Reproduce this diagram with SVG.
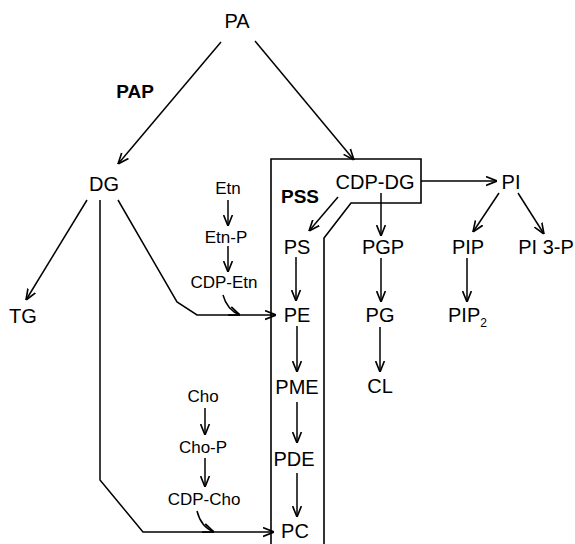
<svg xmlns="http://www.w3.org/2000/svg" width="575" height="544" viewBox="0 0 575 544">
<style>
text{font-family:"Liberation Sans",Arial,sans-serif;fill:#000;text-anchor:middle}
.n{font-size:20px}
.s{font-size:17px}
.b{font-size:19px;font-weight:bold}
.c{stroke:#000;stroke-width:1.5;fill:none;marker-end:url(#ah)}
.box{stroke:#000;stroke-width:1.6;fill:none}
</style>
<defs>
<marker id="ah" viewBox="0 0 10 10" refX="10" refY="5" markerWidth="11" markerHeight="11" markerUnits="userSpaceOnUse" orient="auto">
<path d="M0,1 L10,5 L0,9" stroke="#000" stroke-width="1.5" fill="none"/>
</marker>
</defs>
<rect width="575" height="544" fill="#fff"/>
<g id="pss-box"><path class="box" d="M271,544 V159 H421 V203 H351 L324,238 V544"/></g>
<g id="connectors">
<line class="c" x1="221" y1="42" x2="118" y2="164"/>
<line class="c" x1="255" y1="41" x2="354" y2="160"/>
<line class="c" x1="87" y1="200" x2="26" y2="300"/>
<polyline class="c" points="100,200 100,480 143,532 274,532"/>
<polyline class="c" points="118,200 177,302 197,315 276,315"/>
<line class="c" x1="228" y1="200" x2="228" y2="226"/>
<line class="c" x1="228" y1="246" x2="228" y2="272"/>
<path class="c" d="M223,295 Q227,310 240,315"/>
<line class="c" x1="421" y1="181" x2="497" y2="181"/>
<line class="c" x1="338" y1="197" x2="309" y2="231"/>
<line class="c" x1="381" y1="193" x2="381" y2="236"/>
<line class="c" x1="296" y1="257" x2="296" y2="301"/>
<line class="c" x1="381" y1="258" x2="381" y2="302"/>
<line class="c" x1="380" y1="327" x2="380" y2="372"/>
<line class="c" x1="499" y1="193" x2="473" y2="232"/>
<line class="c" x1="518" y1="193" x2="544" y2="234"/>
<line class="c" x1="467" y1="258" x2="467" y2="302"/>
<line class="c" x1="297" y1="326" x2="297" y2="372"/>
<line class="c" x1="297" y1="402" x2="297" y2="443"/>
<line class="c" x1="297" y1="473" x2="297" y2="517"/>
<line class="c" x1="205" y1="408" x2="205" y2="435"/>
<line class="c" x1="205" y1="458" x2="205" y2="487"/>
<path class="c" d="M197,511 Q201,527 214,532"/>
</g>
<g id="PA"><text class="n" x="237" y="28">PA</text></g>
<g id="PAP"><text class="b" x="135" y="98">PAP</text></g>
<g id="DG"><text class="n" x="104" y="191">DG</text></g>
<g id="TG"><text class="n" x="23" y="323">TG</text></g>
<g id="Etn"><text class="s" x="228" y="194">Etn</text></g>
<g id="Etn-P"><text class="s" x="226" y="243">Etn-P</text></g>
<g id="CDP-Etn"><text class="s" x="224" y="288">CDP-Etn</text></g>
<g id="PSS"><text class="b" x="300" y="203">PSS</text></g>
<g id="CDP-DG"><text class="n" x="375" y="189">CDP-DG</text></g>
<g id="PI"><text class="n" x="511" y="189">PI</text></g>
<g id="PS"><text class="n" x="297" y="254">PS</text></g>
<g id="PGP"><text class="n" x="383" y="254">PGP</text></g>
<g id="PIP"><text class="n" x="468" y="254">PIP</text></g>
<g id="PI3P"><text class="n" x="546" y="254">PI 3-P</text></g>
<g id="PE"><text class="n" x="297" y="322">PE</text></g>
<g id="PG"><text class="n" x="380" y="322">PG</text></g>
<g id="PIP2"><text class="n" x="448" y="322" style="text-anchor:start">PIP<tspan font-size="12" dy="5">2</tspan></text></g>
<g id="CL"><text class="n" x="380" y="393">CL</text></g>
<g id="PME"><text class="n" x="297" y="394">PME</text></g>
<g id="PDE"><text class="n" x="294" y="466">PDE</text></g>
<g id="PC"><text class="n" x="295" y="538">PC</text></g>
<g id="Cho"><text class="s" x="203" y="402">Cho</text></g>
<g id="Cho-P"><text class="s" x="203" y="453">Cho-P</text></g>
<g id="CDP-Cho"><text class="s" x="204" y="505">CDP-Cho</text></g>
</svg>
